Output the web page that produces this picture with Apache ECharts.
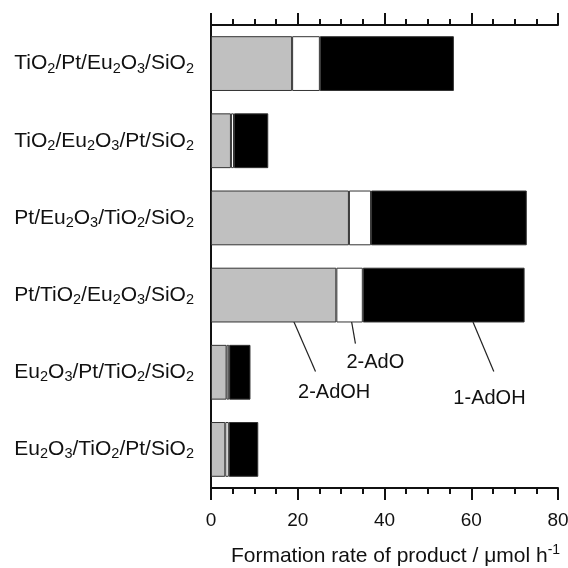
<!DOCTYPE html>
<html><head><meta charset="utf-8">
<script src="https://cdn.jsdelivr.net/npm/echarts@6/dist/echarts.min.js"></script>
<style>html,body{margin:0;padding:0;background:#fff}#c{width:568px;height:568px}</style>
</head><body><div id="c"></div>
<script>
const categories = [
  'TiO{s|2}/Pt/Eu{s|2}O{s|3}/SiO{s|2}',
  'TiO{s|2}/Eu{s|2}O{s|3}/Pt/SiO{s|2}',
  'Pt/Eu{s|2}O{s|3}/TiO{s|2}/SiO{s|2}',
  'Pt/TiO{s|2}/Eu{s|2}O{s|3}/SiO{s|2}',
  'Eu{s|2}O{s|3}/Pt/TiO{s|2}/SiO{s|2}',
  'Eu{s|2}O{s|3}/TiO{s|2}/Pt/SiO{s|2}'
];
const adoh2 = [18.7, 4.6, 31.8, 28.9, 3.6, 3.3];
const ado2 = [6.4, 0.7, 5.1, 6.1, 0.6, 0.8];
const adoh1 = [30.9, 7.9, 35.9, 37.3, 4.9, 6.8];
const xTicks = [0, 20, 40, 60, 80];
const seriesNames = ['2-AdOH', '2-AdO', '1-AdOH'];
// annotations: [label, lineStartX, lineStartCat, lineEndX, lineEndCat, textX, textCat]
const annotations = [
  ['2-AdOH', 18.2, 3.23, 24.1, 3.99, 28.4, 4.26],
  ['2-AdO', 32.0, 3.21, 33.3, 3.63, 37.9, 3.87],
  ['1-AdOH', 60.4, 3.35, 65.2, 3.99, 64.2, 4.34]
];

const FONT = '"Liberation Sans", Arial, Helvetica, sans-serif';
const chart = echarts.init(document.getElementById('c'));
const axisLine = {show: true, lineStyle: {color: '#111', width: 2}};
const barColors = ['#c0c0c0', '#ffffff', '#000000'];
const vals = [adoh2, ado2, adoh1];

const option = {
  animation: false,
  backgroundColor: '#fff',
  grid: {left: 211, right: 10, top: 25, bottom: 80, containLabel: false, outerBoundsMode: 'none'},
  xAxis: [{
    type: 'value', min: xTicks[0], max: xTicks[xTicks.length - 1], interval: 20,
    position: 'bottom',
    axisLine: axisLine,
    axisTick: {show: true, inside: false, length: 12, lineStyle: {color: '#111', width: 2}},
    minorTick: {show: true, splitNumber: 4, length: 6, lineStyle: {color: '#111', width: 2}},
    splitLine: {show: false},
    axisLabel: {fontSize: 19, color: '#111', fontFamily: FONT, margin: 23},
    name: 'Formation rate of product / \u03bcmol h{sup|-1}',
    nameLocation: 'middle', nameGap: 55,
    nameTextStyle: {fontSize: 21, color: '#111', fontFamily: FONT, padding: [0, 0, 0, 22],
      rich: {sup: {fontSize: 14, fontFamily: FONT, color: '#111', padding: [0, 0, 12, 0]}}}
  }, {
    type: 'value', min: xTicks[0], max: xTicks[xTicks.length - 1], interval: 20,
    position: 'top',
    axisLine: axisLine,
    axisTick: {show: true, inside: false, length: 12, lineStyle: {color: '#111', width: 2}},
    minorTick: {show: true, splitNumber: 4, length: 6, lineStyle: {color: '#111', width: 2}},
    splitLine: {show: false},
    axisLabel: {show: false}
  }],
  yAxis: [{
    type: 'category', data: categories, inverse: true,
    axisLine: axisLine, axisTick: {show: false},
    axisLabel: {fontSize: 21, color: '#111', fontFamily: FONT, margin: 17,
      formatter: v => v,
      rich: {s: {fontSize: 14.5, fontFamily: FONT, color: '#111', padding: [10, 0, 0, 0]}}}
  }, {
    type: 'category', data: categories, inverse: true, position: 'right',
    axisLine: axisLine, axisTick: {show: false}, axisLabel: {show: false}
  }],
  series: vals.map((d, i) => ({
    name: seriesNames[i], type: 'bar', stack: 'total', data: d,
    xAxisIndex: 0, yAxisIndex: 0,
    barCategoryGap: '29%',
    itemStyle: {color: barColors[i], borderColor: '#333', borderWidth: 1}
  }))
};
chart.setOption(option);

const xPx = v => chart.convertToPixel({xAxisIndex: 0}, v);
const y0 = chart.convertToPixel({yAxisIndex: 0}, categories[0]);
const y1 = chart.convertToPixel({yAxisIndex: 0}, categories[1]);
const band = y1 - y0;
const yPx = c => y0 + c * band;
const graphics = [];
annotations.forEach(a => {
  graphics.push({type: 'line', silent: true,
    shape: {x1: xPx(a[1]), y1: yPx(a[2]), x2: xPx(a[3]), y2: yPx(a[4])},
    style: {stroke: '#222', lineWidth: 1.2}});
  graphics.push({type: 'text', silent: true, x: xPx(a[5]), y: yPx(a[6]),
    style: {text: a[0], fontSize: 20, fontFamily: FONT, fill: '#111', align: 'center', verticalAlign: 'middle'}});
});
chart.setOption({graphic: graphics});
</script>
</body></html>
